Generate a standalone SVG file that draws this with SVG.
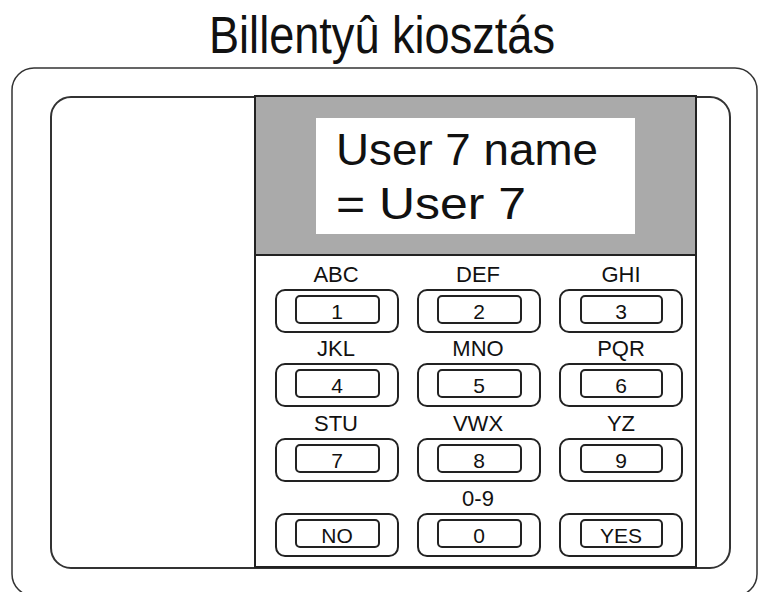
<svg xmlns="http://www.w3.org/2000/svg" width="760" height="592" viewBox="0 0 760 592">
<style>
.t{font-family:"Liberation Sans",Arial,sans-serif;fill:#111}
.lbl{font-size:22px;text-anchor:middle}
.num{font-size:21px;text-anchor:middle}
.ko{fill:#fff;stroke:#222;stroke-width:2}
.ki{fill:#fff;stroke:#222;stroke-width:2}
</style>
<rect width="760" height="592" fill="#fff"/>
<text class="t" x="209" y="53" font-size="51" textLength="346" lengthAdjust="spacingAndGlyphs">Billentyû kiosztás</text>
<g id="outer"><rect x="12" y="68" width="745" height="528" rx="22" fill="none" stroke="#333" stroke-width="1.5"/></g>
<g id="inner"><rect x="51" y="97" width="679" height="471" rx="20" fill="#fff" stroke="#333" stroke-width="2"/></g>
<g id="panel">
<rect x="255" y="96" width="441" height="471" fill="#fff" stroke="#222" stroke-width="2"/>
<rect x="255" y="96" width="441" height="159" fill="#aaa" stroke="#222" stroke-width="2"/>
<rect x="316" y="118" width="319" height="116" fill="#fff"/>
<text class="t" x="336" y="165" font-size="45" textLength="262" lengthAdjust="spacingAndGlyphs">User 7 name</text>
<text class="t" x="336" y="219" font-size="45" textLength="190" lengthAdjust="spacingAndGlyphs">= User 7</text>
</g>
<g id="keys">
<g id="k1"><text class="t lbl" x="336" y="282">ABC</text><rect class="ko" x="276" y="290" width="122" height="42" rx="9"/><rect class="ki" x="296" y="296" width="83" height="27" rx="4"/><text class="t num" x="337" y="319">1</text></g>
<g id="k2"><text class="t lbl" x="478" y="282">DEF</text><rect class="ko" x="418" y="290" width="122" height="42" rx="9"/><rect class="ki" x="438" y="296" width="83" height="27" rx="4"/><text class="t num" x="479" y="319">2</text></g>
<g id="k3"><text class="t lbl" x="621" y="282">GHI</text><rect class="ko" x="560" y="290" width="122" height="42" rx="9"/><rect class="ki" x="581" y="296" width="81" height="27" rx="4"/><text class="t num" x="621" y="319">3</text></g>
<g id="k4"><text class="t lbl" x="336" y="356">JKL</text><rect class="ko" x="276" y="364" width="122" height="42" rx="9"/><rect class="ki" x="296" y="370" width="83" height="27" rx="4"/><text class="t num" x="337" y="393">4</text></g>
<g id="k5"><text class="t lbl" x="478" y="356">MNO</text><rect class="ko" x="418" y="364" width="122" height="42" rx="9"/><rect class="ki" x="438" y="370" width="83" height="27" rx="4"/><text class="t num" x="479" y="393">5</text></g>
<g id="k6"><text class="t lbl" x="621" y="356">PQR</text><rect class="ko" x="560" y="364" width="122" height="42" rx="9"/><rect class="ki" x="581" y="370" width="81" height="27" rx="4"/><text class="t num" x="621" y="393">6</text></g>
<g id="k7"><text class="t lbl" x="336" y="431">STU</text><rect class="ko" x="276" y="439" width="122" height="42" rx="9"/><rect class="ki" x="296" y="445" width="83" height="27" rx="4"/><text class="t num" x="337" y="468">7</text></g>
<g id="k8"><text class="t lbl" x="478" y="431">VWX</text><rect class="ko" x="418" y="439" width="122" height="42" rx="9"/><rect class="ki" x="438" y="445" width="83" height="27" rx="4"/><text class="t num" x="479" y="468">8</text></g>
<g id="k9"><text class="t lbl" x="621" y="431">YZ</text><rect class="ko" x="560" y="439" width="122" height="42" rx="9"/><rect class="ki" x="581" y="445" width="81" height="27" rx="4"/><text class="t num" x="621" y="468">9</text></g>
<g id="kno"><rect class="ko" x="276" y="514" width="122" height="42" rx="9"/><rect class="ki" x="296" y="520" width="83" height="27" rx="4"/><text class="t num" x="337" y="543">NO</text></g>
<g id="k0"><text class="t lbl" x="478" y="506">0-9</text><rect class="ko" x="418" y="514" width="122" height="42" rx="9"/><rect class="ki" x="438" y="520" width="83" height="27" rx="4"/><text class="t num" x="479" y="543">0</text></g>
<g id="kyes"><rect class="ko" x="560" y="514" width="122" height="42" rx="9"/><rect class="ki" x="581" y="520" width="81" height="27" rx="4"/><text class="t num" x="621" y="543">YES</text></g>
</g>
</svg>
